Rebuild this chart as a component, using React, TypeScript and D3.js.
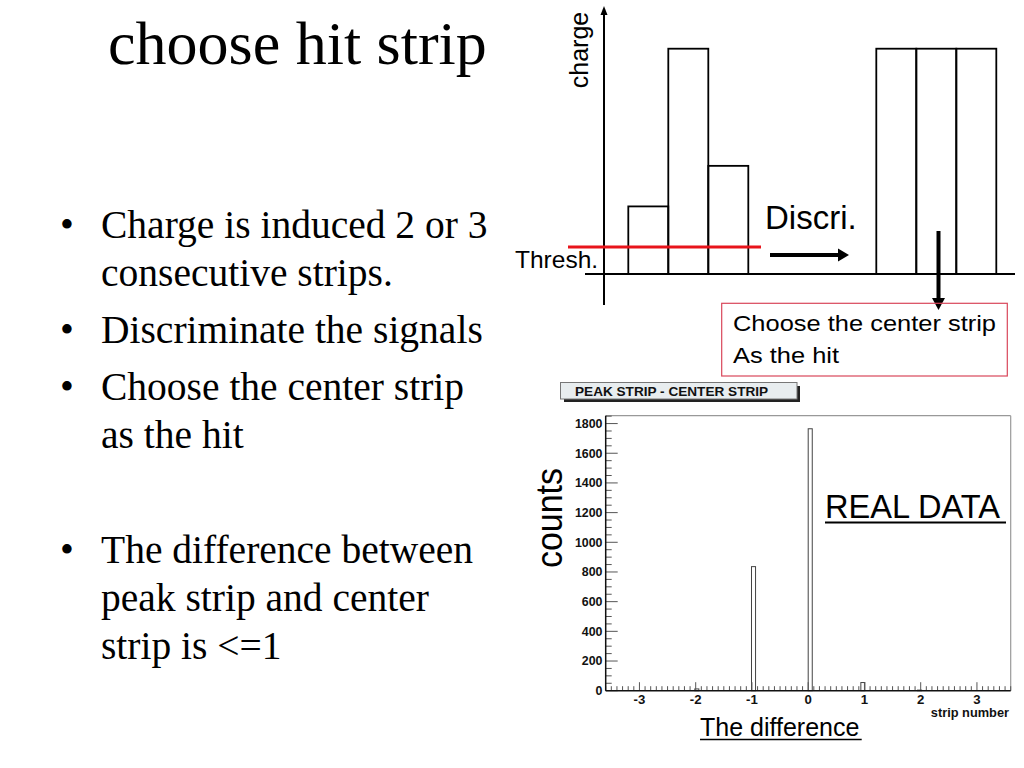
import React from 'react';
import * as d3 from 'd3';

// ---------- data ----------
const diffValues = [-2, -1, 0, 1, 2];
const diffCounts = [12, 836, 1765, 55, 4];
const yTickValues = [0, 200, 400, 600, 800, 1000, 1200, 1400, 1600, 1800];
const xTickValues = [-3, -2, -1, 0, 1, 2, 3];
const leftStripCharges = [30, 100, 48];
const rightStripCharges = [100, 100, 100];
const leftStripIndex = [0, 1, 2];
const rightStripIndex = [6.2, 7.2, 8.2];
const thresholdCharge = 12;

const slideTitle = 'choose hit strip';
const bulletLines = [
  { text: 'Charge is induced 2 or 3', bullet: true, y: 238 },
  { text: 'consecutive strips.', bullet: false, y: 286 },
  { text: 'Discriminate the signals', bullet: true, y: 343 },
  { text: 'Choose the center strip', bullet: true, y: 400 },
  { text: 'as the hit', bullet: false, y: 448 },
  { text: 'The difference between', bullet: true, y: 563 },
  { text: 'peak strip and center', bullet: false, y: 611 },
  { text: 'strip is <=1', bullet: false, y: 659 },
];

const SANS = '"Liberation Sans", Arial, Helvetica, sans-serif';
const SERIF = '"Liberation Serif", "Times New Roman", serif';

export default function App() {
  // histogram scales
  const x = d3.scaleLinear().domain([-3.6, 3.6]).range([605.7, 1010.7]);
  const y = d3.scaleLinear().domain([0, 1853]).range([690.7, 415.7]);
  const binW = 0.072;
  const bins = diffValues.map((v, i) => {
    const lo = -3.6 + Math.floor((v + 3.6) / binW + 1e-9) * binW;
    return { lo, hi: lo + binW, c: diffCounts[i] };
  });
  const xMinor = d3.range(-36, 37).map((i) => i / 10);
  const yMinor = d3.range(0, 1851, 50);

  // diagram scales
  const sx = d3.scaleLinear().domain([0, 1]).range([628.3, 668.3]);
  const sy = d3.scaleLinear().domain([0, 100]).range([274, 48.7]);

  const [fx0, fx1] = x.range();
  const [fy0, fy1] = y.range();

  return (
    <svg
      width={1024}
      height={768}
      style={{ position: 'absolute', left: 0, top: 0, background: '#fff' }}
    >
      <rect x={0} y={0} width={1024} height={768} fill="#fff" />
      {/* slide title */}
      <text x={108} y={64} fontFamily={SERIF} fontSize={62} fill="#000">
        {slideTitle}
      </text>
      {bulletLines.map((l, i) => (
        <g key={i}>
          {l.bullet && (
            <text x={60} y={l.y} fontFamily={SERIF} fontSize={39.5} fill="#000">
              •
            </text>
          )}
          <text x={101} y={l.y} fontFamily={SERIF} fontSize={39.5} fill="#000">
            {l.text}
          </text>
        </g>
      ))}

      {/* ---------- schematic diagram ---------- */}
      {/* y axis with arrow */}
      <line x1={604} x2={604} y1={305} y2={12} stroke="#000" strokeWidth={2} />
      <path d="M604,6 L600.5,15 L607.5,15 Z" fill="#000" />
      {/* x axis */}
      <line x1={585} x2={1015} y1={sy(0)} y2={sy(0)} stroke="#000" strokeWidth={2} />
      <text
        transform={`translate(588,50) rotate(-90)`}
        fontFamily={SANS}
        fontSize={25}
        textAnchor="middle"
        fill="#000"
      >
        charge
      </text>
      {leftStripCharges.map((c, i) => (
        <rect
          key={'l' + i}
          x={sx(leftStripIndex[i])}
          y={sy(c)}
          width={sx(1) - sx(0)}
          height={sy(0) - sy(c)}
          fill="none"
          stroke="#000"
          strokeWidth={1.8}
        />
      ))}
      {rightStripCharges.map((c, i) => (
        <rect
          key={'r' + i}
          x={sx(rightStripIndex[i])}
          y={sy(c)}
          width={sx(1) - sx(0)}
          height={sy(0) - sy(c)}
          fill="none"
          stroke="#000"
          strokeWidth={1.8}
        />
      ))}
      {/* threshold */}
      <line
        x1={568}
        x2={761}
        y1={sy(thresholdCharge)}
        y2={sy(thresholdCharge)}
        stroke="#e8141b"
        strokeWidth={3}
      />
      <text x={515} y={268} fontFamily={SANS} fontSize={24.5} fill="#000">
        Thresh.
      </text>
      <text x={765} y={229} fontFamily={SANS} fontSize={33} fill="#000">
        Discri.
      </text>
      {/* horizontal arrow */}
      <line x1={770} x2={840} y1={255} y2={255} stroke="#000" strokeWidth={4} />
      <path d="M849,255 L838,248.5 L838,261.5 Z" fill="#000" />
      {/* vertical arrow */}
      <line x1={938.5} x2={938.5} y1={231} y2={300} stroke="#000" strokeWidth={4} />
      <path d="M938.5,310 L932,298 L945,298 Z" fill="#000" />
      {/* box */}
      <rect x={721.7} y={303.3} width={285.6} height={72.7} fill="none" stroke="#d9465a" strokeWidth={1.2} />
      <text x={733} y={331} fontFamily={SANS} fontSize={21.5} fill="#000" textLength={263} lengthAdjust="spacingAndGlyphs">
        Choose the center strip
      </text>
      <text x={733} y={363} fontFamily={SANS} fontSize={21.5} fill="#000" textLength={106} lengthAdjust="spacingAndGlyphs">
        As the hit
      </text>

      {/* ---------- histogram ---------- */}
      {/* title box */}
      <rect x={564} y={386} width={236} height={16} fill="#222" />
      <rect x={560.5} y={382.5} width={236.5} height={16.5} fill="#e8edef" stroke="#777" strokeWidth={1} />
      <text x={575} y={395.5} fontFamily={SANS} fontWeight="bold" fontSize={13.6} fill="#111">
        PEAK STRIP - CENTER STRIP
      </text>
      {/* frame */}
      <line x1={fx0} x2={fx1} y1={fy1} y2={fy1} stroke="#999" strokeWidth={1.2} />
      <line x1={fx1} x2={fx1} y1={fy1} y2={fy0} stroke="#999" strokeWidth={1.2} />
      {/* bars */}
      {bins.map((b, i) => (
        <rect
          key={i}
          x={x(b.lo)}
          y={y(b.c)}
          width={x(b.hi) - x(b.lo)}
          height={y(0) - y(b.c)}
          fill="none"
          stroke="#444"
          strokeWidth={1}
        />
      ))}
      {/* x ticks */}
      {xMinor.map((t, i) => {
        const major = Math.abs(t - Math.round(t)) < 1e-9;
        return (
          <line
            key={'xm' + i}
            x1={x(t)}
            x2={x(t)}
            y1={fy0}
            y2={fy0 - (major ? 8.5 : 4.5)}
            stroke="#555"
            strokeWidth={1}
          />
        );
      })}
      {/* y ticks */}
      {yMinor.map((t, i) => {
        const major = t % 200 === 0;
        return (
          <line
            key={'ym' + i}
            x1={fx0}
            x2={fx0 + (major ? 12 : 6)}
            y1={y(t)}
            y2={y(t)}
            stroke="#555"
            strokeWidth={1}
          />
        );
      })}
      {/* axes */}
      <line x1={fx0} x2={fx0} y1={fy1} y2={fy0} stroke="#111" strokeWidth={1.5} />
      <line x1={fx0} x2={fx1} y1={fy0} y2={fy0} stroke="#111" strokeWidth={1.5} />
      {yTickValues.map((t) => (
        <text
          key={'yl' + t}
          x={602.5}
          y={y(t) + 4.3}
          textAnchor="end"
          fontFamily={SANS}
          fontWeight="bold"
          fontSize={12.4}
          fill="#111"
        >
          {t}
        </text>
      ))}
      {xTickValues.map((t) => (
        <text
          key={'xl' + t}
          x={x(t)}
          y={703.5}
          textAnchor="middle"
          fontFamily={SANS}
          fontWeight="bold"
          fontSize={13.2}
          fill="#111"
        >
          {t}
        </text>
      ))}
      <text x={1009} y={717} textAnchor="end" fontFamily={SANS} fontWeight="bold" fontSize={12.8} fill="#111">
        strip number
      </text>
      <text
        transform="translate(562,518) rotate(-90)"
        textAnchor="middle"
        fontFamily={SANS}
        fontSize={36}
        fill="#000"
        textLength={100}
        lengthAdjust="spacingAndGlyphs"
      >
        counts
      </text>
      <text x={825} y={518.3} fontFamily={SANS} fontSize={32.6} fill="#000">
        REAL DATA
      </text>
      <line x1={825} x2={1006} y1={522.5} y2={522.5} stroke="#000" strokeWidth={2} />
      <text x={700} y={736} fontFamily={SANS} fontSize={25} fill="#000">
        The difference
      </text>
      <line x1={700} x2={861.7} y1={739.5} y2={739.5} stroke="#000" strokeWidth={1.5} />
    </svg>
  );
}
